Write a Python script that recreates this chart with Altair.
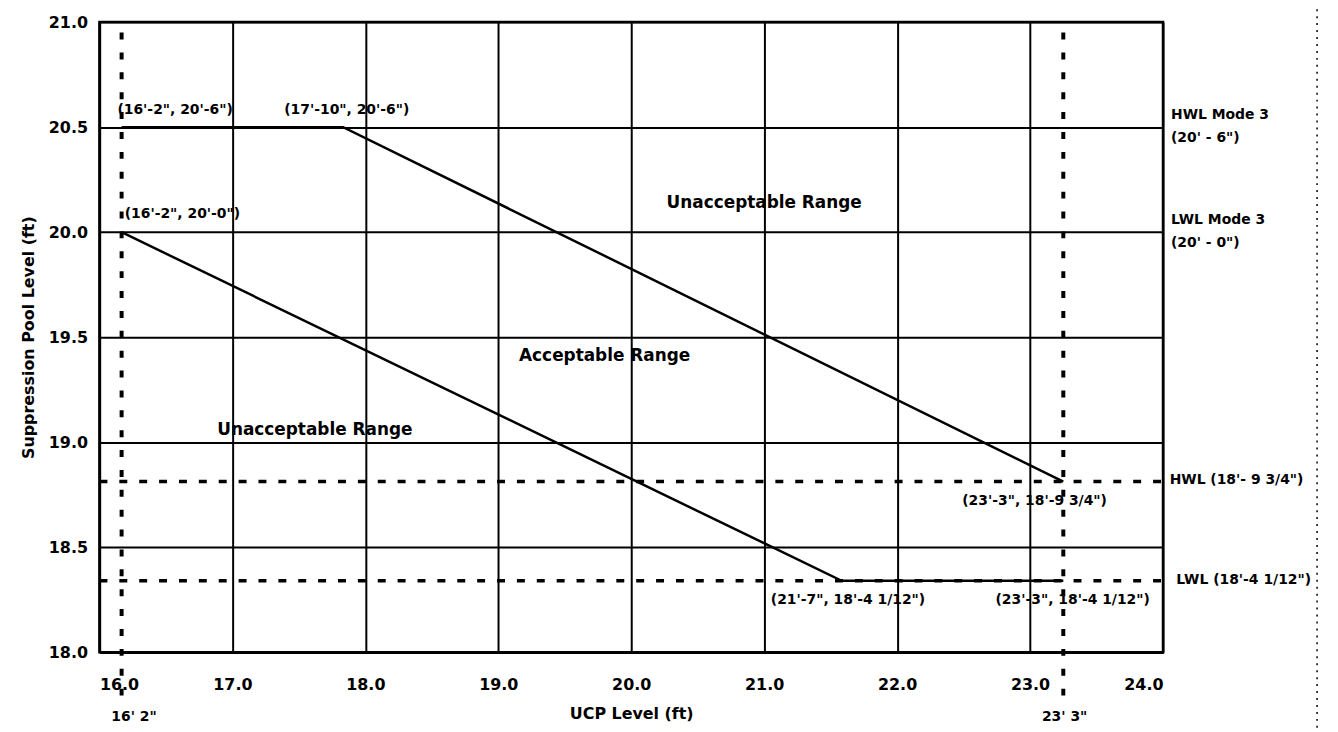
import altair as alt
import pandas as pd

# ---- data ----
upper_x = [16.1667, 17.8333, 23.25]
upper_y = [20.5, 20.5, 18.8125]
lower_x = [16.1667, 21.5833, 23.25]
lower_y = [20.0, 18.3403, 18.3403]

vdash_x = [16.1667, 23.25]
vdash_y_top = 20.95
vdash_y_bot = 17.74
hdash_y = [18.8125, 18.3403]
hdash_x = [16.0, 24.0]

x_ticks = [16, 17, 18, 19, 20, 21, 22, 23, 24]
y_ticks = [18.0, 18.5, 19.0, 19.5, 20.0, 20.5, 21.0]

pt_labels = ["(16'-2\",  20'-6\")", "(17'-10\",  20'-6\")", "(16'-2\",  20'-0\")",
             "(23'-3\",  18'-9 3/4\")", "(21'-7\",  18'-4 1/12\")", "(23'-3\",  18'-4 1/12\")"]
pt_lx = [16.135, 17.39, 16.19, 22.49, 21.05, 22.74]
pt_ly = [20.58, 20.58, 20.085, 18.72, 18.25, 18.25]

right_labels = ["HWL Mode 3", "(20' - 6\")", "LWL Mode 3", "(20' - 0\")",
                "HWL (18'- 9 3/4\")", "LWL (18'-4 1/12\")"]
right_lx = [24.06, 24.06, 24.06, 24.06, 24.05, 24.10]
right_ly = [20.56, 20.45, 20.06, 19.95, 18.82, 18.345]

region_labels = ["Unacceptable Range", "Acceptable Range", "Unacceptable Range"]
region_lx = [21.0, 19.8, 17.62]
region_ly = [20.14, 19.41, 19.06]

bottom_labels = ["16' 2\"", "23' 3\""]
bottom_lx = [16.26, 23.26]
bottom_ly = [17.69, 17.69]

FONT = "DejaVu Sans"

xs = alt.Scale(domain=[16, 24], nice=False, zero=False)
ys = alt.Scale(domain=[18, 21], nice=False, zero=False)

lines_df = pd.DataFrame({
    "x": upper_x + lower_x,
    "y": upper_y + lower_y,
    "grp": ["upper"] * 3 + ["lower"] * 3,
    "o": [0, 1, 2, 0, 1, 2],
})

base_axes = alt.Chart(lines_df).mark_line(color="black", strokeWidth=2.5).encode(
    x=alt.X("x:Q", scale=xs, title="UCP Level (ft)",
            axis=alt.Axis(values=x_ticks, format=".1f", grid=True, ticks=False,
                          labelPadding=24, titlePadding=14)),
    y=alt.Y("y:Q", scale=ys, title="Suppression Pool Level (ft)",
            axis=alt.Axis(values=y_ticks, format=".1f", grid=True, ticks=False,
                          labelPadding=12, titlePadding=12)),
    detail="grp:N",
    order="o:O",
)

vdash_df = pd.DataFrame({"x": vdash_x, "y": [vdash_y_top] * 2, "y2": [vdash_y_bot] * 2})
vdash = alt.Chart(vdash_df).mark_rule(color="black", strokeWidth=4, strokeDash=[7, 13]).encode(
    x=alt.X("x:Q", scale=xs), y=alt.Y("y:Q", scale=ys), y2="y2:Q")

hdash_df = pd.DataFrame({"y": hdash_y, "x": [hdash_x[0]] * 2, "x2": [hdash_x[1]] * 2})
hdash = alt.Chart(hdash_df).mark_rule(color="black", strokeWidth=3.5, strokeDash=[8, 12]).encode(
    y=alt.Y("y:Q", scale=ys), x=alt.X("x:Q", scale=xs), x2="x2:Q")

def text_layer(labels, lx, ly, size, align="left", weight="bold"):
    df = pd.DataFrame({"t": labels, "x": lx, "y": ly})
    return alt.Chart(df).mark_text(font=FONT, fontSize=size, fontWeight=weight,
                                   align=align, baseline="middle", color="black").encode(
        x=alt.X("x:Q", scale=xs), y=alt.Y("y:Q", scale=ys), text="t:N")

pts = text_layer(pt_labels, pt_lx, pt_ly, 14)
rights = text_layer(right_labels, right_lx, right_ly, 14)
regions = text_layer(region_labels, region_lx, region_ly, 17, align="center")
bottoms = text_layer(bottom_labels, bottom_lx, bottom_ly, 14, align="center")

edge = alt.Chart(pd.DataFrame({"a": [0]})).mark_rule(
    color="black", strokeWidth=1.5, strokeDash=[2, 5]).encode(
    x=alt.value(1225), y=alt.value(-20), y2=alt.value(712))

chart = alt.layer(base_axes, vdash, hdash, pts, rights, regions, bottoms, edge).properties(
    width=1070, height=634,
    autosize=alt.AutoSizeParams(type="none"),
    padding={"left": 92, "top": 12, "right": 168, "bottom": 77},
    background="white",
).configure_view(stroke="black", strokeWidth=2.5).configure_axis(
    labelFont=FONT, labelFontSize=16, labelFontWeight="bold", labelColor="black",
    titleFont=FONT, titleFontSize=16, titleFontWeight="bold", titleColor="black",
    gridColor="black", gridWidth=2, gridOpacity=1,
    domainColor="black", domainWidth=2.5,
)

chart.save("out.html", embed_options={"renderer": "svg", "actions": False})
